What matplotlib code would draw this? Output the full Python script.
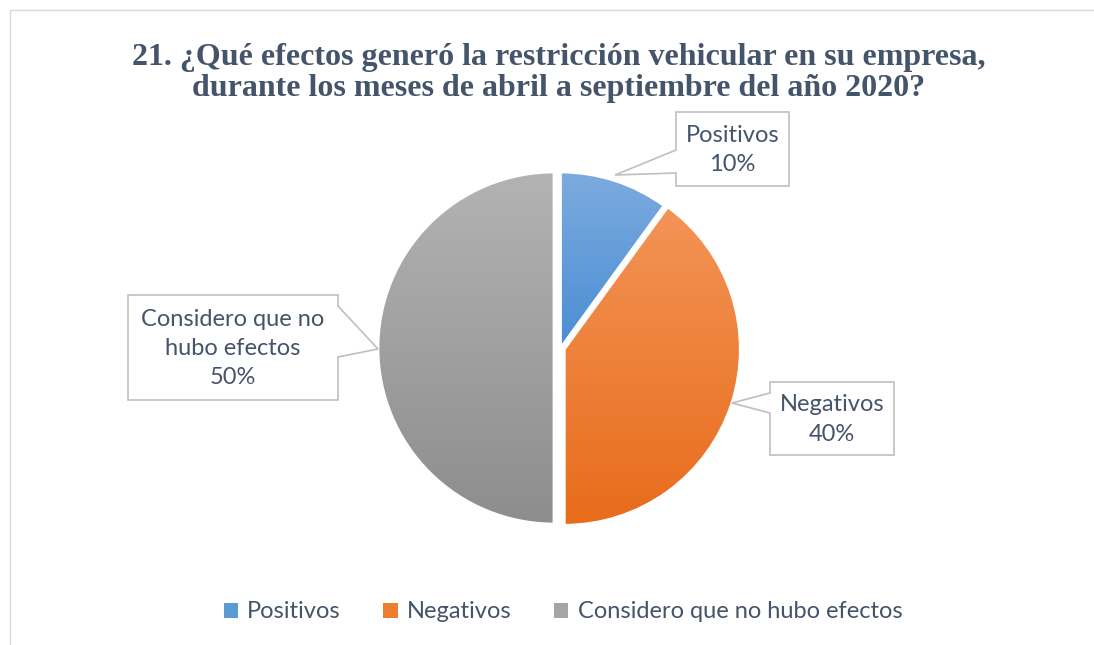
import matplotlib
matplotlib.use("Agg")
import matplotlib.pyplot as plt
import numpy as np
from matplotlib.patches import Polygon, Rectangle, Patch
from matplotlib.colors import LinearSegmentedColormap

W, H = 1094, 645

TITLE = ("21. ¿Qué efectos generó la restricción vehicular en su empresa,\n"
         "durante los meses de abril a septiembre del año 2020?")
CATEGORIES = ["Positivos", "Negativos", "Considero que no hubo efectos"]
VALUES = [10, 40, 50]
BOX_LABELS = ["Positivos", "Negativos", "Considero que no\nhubo efectos"]
COLORS_TOP = ["#7CABDE", "#F39457", "#B3B3B3"]
COLORS_BOTTOM = ["#4A8DD5", "#E86C1B", "#8D8D8D"]
COLORS_LEGEND = ["#5B9BD5", "#ED7D31", "#A5A5A5"]
EXPLODE = [0, 4, 6.5]   # pixels

TEXT_COLOR = "#44546A"
LABEL_FONT = "Lato"

# callout boxes in image pixels: box (x0, y0, x1, y1), pointer side, base (a, b), tip
CALLOUTS = [
    ((676, 112, 789, 186), "left", (150, 173), (615, 175)),
    ((770, 382, 894, 455), "left", (393, 413), (732, 403)),
    ((128, 295, 338, 400), "right", (306, 357), (378, 349)),
]


def fy(y):
    """image y (top-down) -> data y (bottom-up)"""
    return H - y


fig = plt.figure(figsize=(W / 100, H / 100), dpi=100)
ax = fig.add_axes([0, 0, 1, 1])

wedges, _ = ax.pie(VALUES, startangle=90, counterclock=False,
                   center=(560.5, fy(348)), radius=176, explode=EXPLODE,
                   wedgeprops=dict(facecolor="none", edgecolor="white",
                                   linewidth=2.0))

# vertical gradient fill, one per slice
for w, ctop, cbot in zip(wedges, COLORS_TOP, COLORS_BOTTOM):
    pts = w.get_patch_transform().transform(w.get_path().vertices)
    x0, y0 = pts.min(axis=0)
    x1, y1 = pts.max(axis=0)
    cmap = LinearSegmentedColormap.from_list("g", [cbot, ctop])
    grad = np.linspace(0, 1, 256).reshape(-1, 1)
    im = ax.imshow(grad, cmap=cmap, origin="lower", aspect="auto",
                   extent=(x0, x1, y0, y1), zorder=1)
    im.set_clip_path(w)
    w.set_zorder(2)

# callout label boxes
for (box, side, base, tip), lab, v in zip(CALLOUTS, BOX_LABELS, VALUES):
    bx0, by0, bx1, by1 = box
    if side == "left":
        verts = [(bx0, by0), (bx1, by0), (bx1, by1), (bx0, by1),
                 (bx0, base[1]), tip, (bx0, base[0])]
    else:
        verts = [(bx0, by0), (bx1, by0), (bx1, base[0]), tip,
                 (bx1, base[1]), (bx1, by1), (bx0, by1)]
    verts = [(x, fy(y)) for x, y in verts]
    ax.add_patch(Polygon(verts, closed=True, facecolor="white",
                         edgecolor="#BFBFBF", linewidth=1.2, zorder=3))
    ax.text((bx0 + bx1) / 2, fy((by0 + by1) / 2 + 1), f"{lab}\n{v}%",
            ha="center", va="center", fontsize=17, family=LABEL_FONT,
            color=TEXT_COLOR, linespacing=1.5, zorder=4)

ax.text(W / 2 + 12, fy(73), TITLE, ha="center", va="center",
        fontsize=23, family="Liberation Serif", fontweight="bold",
        color=TEXT_COLOR, linespacing=1.1)

# chart area frame
ax.add_patch(Rectangle((10, -20), W + 20, fy(10) + 20, facecolor="none",
                       edgecolor="#D9D9D9", linewidth=1.0, zorder=0))

handles = [Patch(facecolor=c, edgecolor="none") for c in COLORS_LEGEND]
ax.legend(handles, CATEGORIES, loc="center", bbox_to_anchor=(563, fy(612)),
          bbox_transform=ax.transData, ncol=3, frameon=False,
          prop=dict(family=LABEL_FONT, size=17), labelcolor=TEXT_COLOR,
          handlelength=0.6, handleheight=0.6, handletextpad=0.4,
          columnspacing=1.8)

ax.set_xlim(0, W)
ax.set_ylim(0, H)
ax.set_aspect("auto")
ax.axis("off")

fig.savefig("out.png", dpi=100)
